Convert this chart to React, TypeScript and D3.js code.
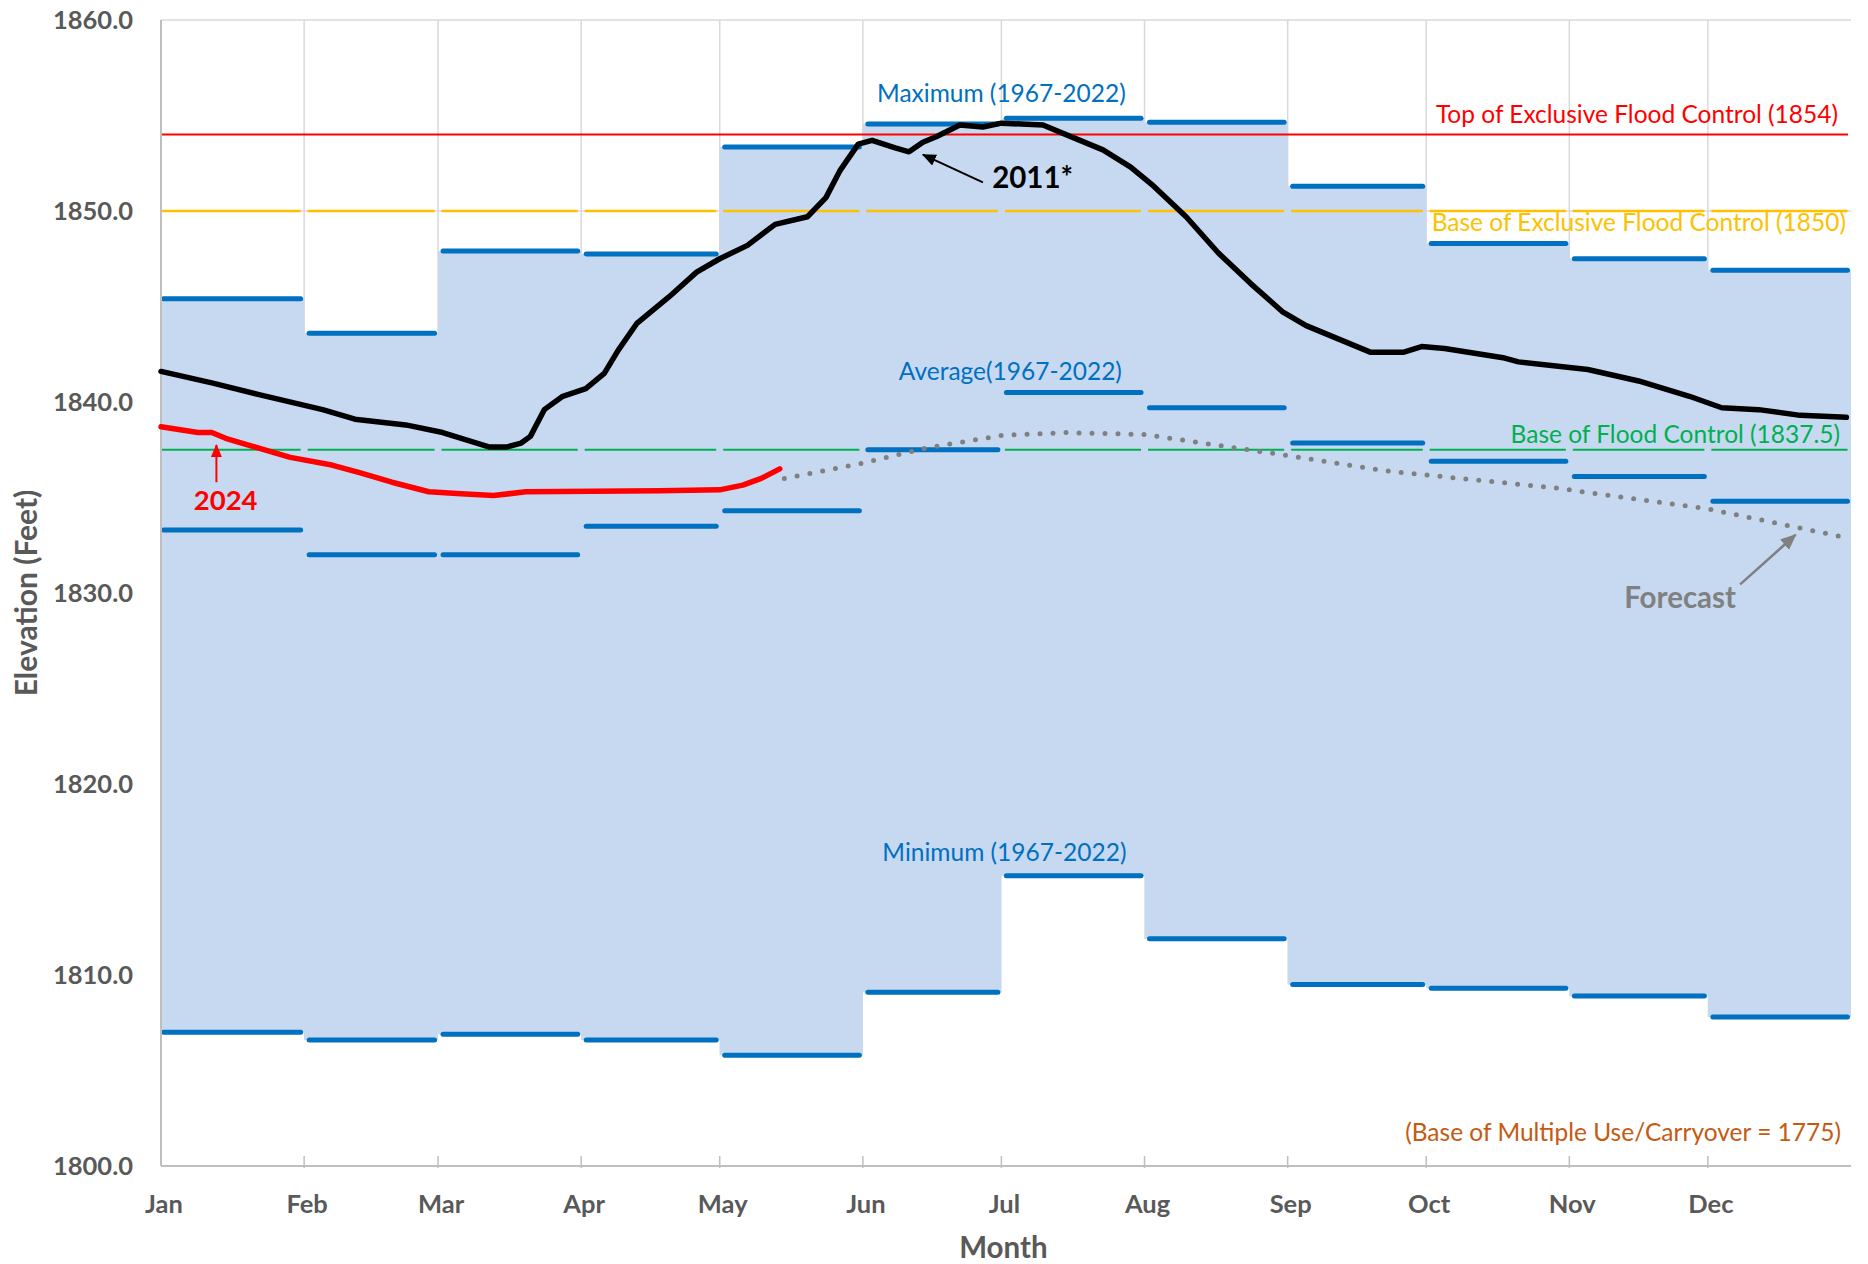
import * as d3 from 'd3';

// Month categories and historic monthly statistics (1967-2022)
const months = ['Jan', 'Feb', 'Mar', 'Apr', 'May', 'Jun', 'Jul', 'Aug', 'Sep', 'Oct', 'Nov', 'Dec'];
const maxElev = [1845.4, 1843.6, 1847.9, 1847.75, 1853.35, 1854.55, 1854.85, 1854.65, 1851.3, 1848.3, 1847.5, 1846.9];
const avgElev = [1833.3, 1832.0, 1832.0, 1833.5, 1834.3, 1837.5, 1840.5, 1839.7, 1837.85, 1836.9, 1836.1, 1834.8];
const minElev = [1807.0, 1806.6, 1806.9, 1806.6, 1805.8, 1809.1, 1815.2, 1811.9, 1809.5, 1809.3, 1808.9, 1807.8];

const yTicks = [1800, 1810, 1820, 1830, 1840, 1850, 1860];

const topExclusive = 1854;
const baseExclusive = 1850;
const baseFlood = 1837.5;

// 2011 elevation trace (month-day, feet)
const elev2011: [string, number][] = [
  ['01-01', 1841.6], ['01-12', 1841.0], ['01-22', 1840.4], ['02-05', 1839.6], ['02-12', 1839.1],
  ['02-23', 1838.8], ['03-02', 1838.4], ['03-12', 1837.65], ['03-16', 1837.65], ['03-19', 1837.85],
  ['03-21', 1838.2], ['03-24', 1839.6], ['03-28', 1840.3], ['04-02', 1840.7], ['04-06', 1841.5],
  ['04-09', 1842.7], ['04-13', 1844.1], ['04-16', 1844.7], ['04-20', 1845.5], ['04-26', 1846.8],
  ['05-01', 1847.5], ['05-07', 1848.2], ['05-13', 1849.3], ['05-20', 1849.7], ['05-24', 1850.7],
  ['05-27', 1852.1], ['05-31', 1853.5], ['06-03', 1853.7], ['06-08', 1853.3], ['06-11', 1853.1],
  ['06-14', 1853.6], ['06-17', 1853.9], ['06-22', 1854.5], ['06-27', 1854.4], ['07-01', 1854.6],
  ['07-10', 1854.5], ['07-15', 1854.0], ['07-23', 1853.2], ['07-29', 1852.3], ['08-03', 1851.3],
  ['08-10', 1849.7], ['08-17', 1847.8], ['08-24', 1846.2], ['08-31', 1844.7], ['09-05', 1844.0],
  ['09-19', 1842.6], ['09-26', 1842.6], ['09-30', 1842.9], ['10-05', 1842.8], ['10-18', 1842.3],
  ['10-21', 1842.1], ['11-05', 1841.7], ['11-16', 1841.1], ['11-27', 1840.3], ['12-04', 1839.7],
  ['12-12', 1839.6], ['12-21', 1839.3], ['12-31', 1839.2],
];

// 2024 observed elevation
const elev2024: [string, number][] = [
  ['01-01', 1838.7], ['01-09', 1838.4], ['01-12', 1838.4], ['01-15', 1838.1], ['01-22', 1837.6],
  ['01-29', 1837.1], ['02-07', 1836.7], ['02-13', 1836.3], ['02-20', 1835.8], ['02-28', 1835.3],
  ['03-06', 1835.2], ['03-13', 1835.1], ['03-20', 1835.3], ['04-18', 1835.35], ['05-01', 1835.4],
  ['05-06', 1835.65], ['05-10', 1836.0], ['05-14', 1836.5],
];

// 2024 forecast
const forecast2024: [string, number][] = [
  ['05-15', 1836.0], ['06-01', 1836.8], ['06-15', 1837.6], ['07-01', 1838.25], ['07-15', 1838.4],
  ['08-01', 1838.3], ['08-15', 1837.8], ['09-01', 1837.2], ['09-22', 1836.4], ['10-29', 1835.5],
  ['12-01', 1834.4], ['12-31', 1832.9],
];

const parseDay = d3.timeParse('%Y-%m-%d');
const toDate = (md: string) => parseDay(`2024-${md}`) as Date;

const FONT = "Lato, 'Open Sans', sans-serif";
const AXIS_GRAY = '#595959';
const BLUE = '#0070C0';

export default function App() {
  const width = 1868;
  const height = 1264;

  const x = d3.scaleTime()
    .domain([new Date(2024, 0, 1), new Date(2025, 0, 1)])
    .range([161, 1851]);
  const y = d3.scaleLinear().domain([1800, 1860]).range([1166, 20]);

  const [xl, xr] = x.range();
  const yBottom = y(1800);
  const yTop = y(1860);

  const monthStarts = d3.timeMonth.range(new Date(2024, 0, 1), new Date(2025, 0, 2));

  type Step = { d: Date; lo: number; hi: number };
  const steps: Step[] = monthStarts.map((d, i) => ({
    d,
    lo: minElev[Math.min(i, 11)],
    hi: maxElev[Math.min(i, 11)],
  }));

  const band = d3.area<Step>()
    .curve(d3.curveStepAfter)
    .x(s => x(s.d))
    .y0(s => y(s.lo))
    .y1(s => y(s.hi));

  const under = d3.area<Step>()
    .curve(d3.curveStepAfter)
    .x(s => x(s.d))
    .y0(yBottom)
    .y1(s => y(s.lo));

  const line = d3.line<[string, number]>()
    .x(p => x(toDate(p[0])))
    .y(p => y(p[1]));

  const seg = (i: number, l: number, r: number) => [x(monthStarts[i]) + l, x(monthStarts[i + 1]) - r];

  const at = (md: string, v: number) => [x(toDate(md)), y(v)];

  const a2011h = at('06-14', 1852.95);
  const a2011t = at('06-27', 1851.5);
  const t2011 = at('06-29', 1851.2);
  const a2024h = at('01-13', 1837.75);
  const a2024t = at('01-13', 1835.8);
  const t2024 = at('01-15', 1834.35);
  const aFh = at('12-20', 1833.05);
  const aFt = at('12-08', 1830.45);
  const tF = at('11-25', 1829.2);

  const julX = x(monthStarts[6]);

  return (
    <svg width={width} height={height} style={{ position: 'absolute', left: 0, top: 0, background: '#fff' }}
      fontFamily={FONT}>
      <defs>
        <marker id="headBlack" viewBox="0 0 14 12" refX="13" refY="6" markerWidth="14" markerHeight="12"
          markerUnits="userSpaceOnUse" orient="auto">
          <path d="M0,0 L14,6 L0,12 z" fill="#000" />
        </marker>
        <marker id="headRed" viewBox="0 0 14 12" refX="13" refY="6" markerWidth="14" markerHeight="11"
          markerUnits="userSpaceOnUse" orient="auto">
          <path d="M0,0 L14,6 L0,12 z" fill="#ff0000" />
        </marker>
        <marker id="headGray" viewBox="0 0 14 12" refX="13" refY="6" markerWidth="16" markerHeight="14"
          markerUnits="userSpaceOnUse" orient="auto">
          <path d="M0,0 L14,6 L0,12 z" fill="#808080" />
        </marker>
      </defs>

      {/* gridlines */}
      <g stroke="#d9d9d9" strokeWidth={1.5}>
        {yTicks.map(t => (
          <line key={t} x1={xl} x2={xr} y1={y(t)} y2={y(t)} />
        ))}
        {monthStarts.slice(1, 12).map((d, i) => (
          <line key={i} x1={x(d)} x2={x(d)} y1={yTop} y2={yBottom} />
        ))}
      </g>

      {/* stacked areas: white below minimum, blue range min..max */}
      <path d={under(steps) ?? ''} fill="#ffffff" />
      <path d={band(steps) ?? ''} fill="#c6d9f1" />

      {/* reference levels */}
      <line x1={xl + 1} x2={xr - 3} y1={y(topExclusive)} y2={y(topExclusive)} stroke="#ff0000" strokeWidth={2} />
      {months.map((m, i) => {
        const [a, b] = seg(i, i === 0 ? 1 : 3.5, 3.5);
        return (
          <g key={m}>
            <line x1={a} x2={b} y1={y(baseExclusive)} y2={y(baseExclusive)} stroke="#ffc000" strokeWidth={2.5} />
            <line x1={a} x2={b} y1={y(baseFlood)} y2={y(baseFlood)} stroke="#00b050" strokeWidth={2} />
          </g>
        );
      })}

      {/* monthly max / avg / min */}
      <g stroke={BLUE} strokeWidth={5} strokeLinecap="round">
        {months.map((m, i) => {
          const [a, b] = seg(i, i === 0 ? 2.5 : 5, 3.5);
          return (
            <g key={m}>
              <line x1={a} x2={b} y1={y(maxElev[i])} y2={y(maxElev[i])} />
              <line x1={a} x2={b} y1={y(avgElev[i])} y2={y(avgElev[i])} />
              <line x1={a} x2={b} y1={y(minElev[i])} y2={y(minElev[i])} />
            </g>
          );
        })}
      </g>

      {/* axes */}
      <line x1={xl} x2={xl} y1={yTop} y2={yBottom} stroke="#bfbfbf" strokeWidth={2} />
      <line x1={xl} x2={xr} y1={yBottom} y2={yBottom} stroke="#bfbfbf" strokeWidth={2} />
      {monthStarts.slice(1, 12).map((d, i) => (
        <line key={i} x1={x(d)} x2={x(d)} y1={yBottom - 10} y2={yBottom + 2} stroke="#bfbfbf" strokeWidth={1.5} />
      ))}

      {/* series */}
      <path d={line(forecast2024) ?? ''} fill="none" stroke="#808080" strokeWidth={5}
        strokeDasharray="0 13" strokeLinecap="round" />
      <path d={line(elev2011) ?? ''} fill="none" stroke="#000" strokeWidth={5.5}
        strokeLinejoin="round" strokeLinecap="round" />
      <path d={line(elev2024) ?? ''} fill="none" stroke="#ff0000" strokeWidth={5.5}
        strokeLinejoin="round" strokeLinecap="round" />

      {/* tick labels */}
      <g fill={AXIS_GRAY} fontWeight="bold" fontSize={25.5}>
        {yTicks.map(t => (
          <text key={t} x={133} y={y(t) + 9} textAnchor="end">{t.toFixed(1)}</text>
        ))}
        {months.map((m, i) => (
          <text key={m} x={x(monthStarts[i]) + 3} y={1213} textAnchor="middle">{m}</text>
        ))}
      </g>

      {/* axis titles */}
      <text x={x(monthStarts[6]) + 2} y={1258} textAnchor="middle" fill={AXIS_GRAY} fontWeight="bold" fontSize={29.5}>Month</text>
      <text transform={`translate(37, ${(yTop + yBottom) / 2}) rotate(-90)`} textAnchor="middle"
        fill={AXIS_GRAY} fontWeight="bold" fontSize={30}>Elevation (Feet)</text>

      {/* level labels */}
      <g fontSize={24.5}>
        <text x={1838} y={y(topExclusive) - 11.5} textAnchor="end" fill="#ff0000">Top of Exclusive Flood Control (1854)</text>
        <text x={1846} y={y(baseExclusive) + 19.5} textAnchor="end" fill="#ffc000">Base of Exclusive Flood Control (1850)</text>
        <text x={1840} y={y(baseFlood) - 7} textAnchor="end" fill="#00b050">Base of Flood Control (1837.5)</text>
        <text x={1841} y={1141} textAnchor="end" fill="#c55a11">(Base of Multiple Use/Carryover = 1775)</text>
        <text x={julX} y={y(maxElev[5]) - 22} textAnchor="middle" fill={BLUE}>Maximum (1967-2022)</text>
        <text x={julX + 9} y={y(avgElev[6]) - 12} textAnchor="middle" fill={BLUE}>Average(1967-2022)</text>
        <text x={julX + 3} y={y(minElev[6]) - 15} textAnchor="middle" fill={BLUE}>Minimum (1967-2022)</text>
      </g>

      {/* annotations */}
      <line x1={a2011t[0]} y1={a2011t[1]} x2={a2011h[0]} y2={a2011h[1]} stroke="#000" strokeWidth={2} markerEnd="url(#headBlack)" />
      <text x={t2011[0]} y={t2011[1]} fill="#000" fontWeight="bold" fontSize={29.5}>2011*</text>

      <line x1={a2024t[0]} y1={a2024t[1]} x2={a2024h[0]} y2={a2024h[1]} stroke="#ff0000" strokeWidth={2} markerEnd="url(#headRed)" />
      <text x={t2024[0]} y={t2024[1]} textAnchor="middle" fill="#ff0000" fontWeight="bold" fontSize={27.5}>2024</text>

      <line x1={aFt[0]} y1={aFt[1]} x2={aFh[0]} y2={aFh[1]} stroke="#808080" strokeWidth={2.5} markerEnd="url(#headGray)" />
      <text x={tF[0]} y={tF[1]} textAnchor="middle" fill="#808080" fontWeight="bold" fontSize={29.5}>Forecast</text>
    </svg>
  );
}
